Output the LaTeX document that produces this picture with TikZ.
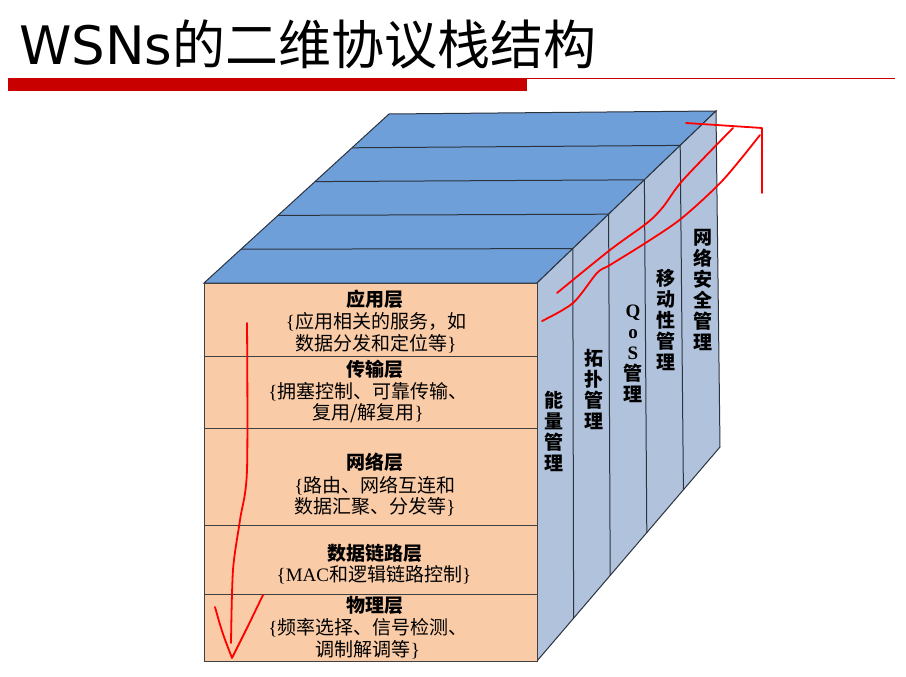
\documentclass[tikz,border=0pt]{standalone}
\usepackage{fontspec}
\setmainfont{Noto Sans CJK SC}
\newfontfamily\latinfont{DejaVu Sans}
\newfontfamily\romanfont{Liberation Serif}
\usetikzlibrary{calc}
\definecolor{topblue}{HTML}{6F9FD9}
\definecolor{sideblue}{HTML}{B1C3DC}
\definecolor{peach}{HTML}{F9CBA7}
\definecolor{barred}{HTML}{C80000}
\definecolor{edge}{HTML}{2B3340}
\newcommand{\rl}[1]{{\romanfont #1}}
\tikzset{
  layername/.style={font=\fontsize{19}{21.5}\selectfont\bfseries},
  layerbody/.style={font=\fontsize{19}{21.5}\selectfont, align=center},
  sidetext/.style={font=\fontsize{19}{21}\selectfont\bfseries, align=center},
  pen/.style={draw=red, line width=1.8pt, line cap=round, line join=round}
}
\begin{document}
\begin{tikzpicture}[x=1pt, y=-1pt, every node/.style={inner sep=0pt}]
  \useasboundingbox (0,0) rectangle (906,677);
  % title and bar
  \node[anchor=west, font=\fontsize{53}{60}\selectfont] (title) at (19,44) {{\latinfont WSNs}的二维协议栈结构};
  \fill[barred] (8,78) rectangle (527,91);
  \draw[barred, line width=0.8pt] (527,78.5) -- (895,78.5);
  % corners of the block
  \coordinate (FL) at (204,283);
  \coordinate (FR) at (537,283);
  \coordinate (FB) at (537,661);
  \coordinate (BL) at (389,114);
  \coordinate (BR) at (716,111);
  \coordinate (BB) at (720,447);
  % top face
  \draw[fill=topblue, draw=edge, line width=1pt] (FL) -- (BL) -- (BR) -- (FR) -- cycle;
  \foreach \t in {0.2,0.4,0.6,0.8}
    \draw[edge, line width=1pt] ($(FL)!\t!(BL)$) -- ($(FR)!\t!(BR)$);
  % side face
  \draw[fill=sideblue, draw=edge, line width=1pt] (FR) -- (BR) -- (BB) -- (FB) -- cycle;
  \foreach \t in {0.2,0.4,0.6,0.8}
    \draw[edge, line width=1pt] ($(FR)!\t!(BR)$) -- ($(FB)!\t!(BB)$);
  % front face
  \foreach \a/\b in {283/356,356/428,428/525,525/594,594/661}
    \draw[fill=peach, draw=black!75, line width=1pt] (204,\a) rectangle (537,\b);
  \node[layername] (app) at (375,299) {应用层};
  \node[layerbody] (appd) at (376,332.5) {\rl{\{}应用相关的服务，如\\数据分发和定位等\rl{\}}};
  \node[layername] (trans) at (375,369) {传输层};
  \node[layerbody] (transd) at (368,402.5) {\rl{\{}拥塞控制、可靠传输、\\复用/解复用\rl{\}}};
  \node[layername] (net) at (375,462) {网络层};
  \node[layerbody] (netd) at (375,496) {\rl{\{}路由、网络互连和\\数据汇聚、分发等\rl{\}}};
  \node[layername] (link) at (375,553) {数据链路层};
  \node[layerbody] (linkd) at (374,575) {\rl{\{MAC}和逻辑链路控制\rl{\}}};
  \node[layername] (phy) at (375,605) {物理层};
  \node[layerbody] (phyd) at (368,638.5) {\rl{\{}频率选择、信号检测、\\调制解调等\rl{\}}};
  % side labels
  \node[sidetext] (energy) at (554,431) {能\\量\\管\\理};
  \node[sidetext] (topo) at (594,389) {拓\\扑\\管\\理};
  \node[sidetext] (qos) at (633,354) {\rl{Q}\\\rl{o}\\\rl{S}\\管\\理};
  \node[sidetext] (mobile) at (666,320) {移\\动\\性\\管\\理};
  \node[sidetext] (secure) at (703,290) {网\\络\\安\\全\\管\\理};
  % red marks
  \draw[pen] plot[smooth] coordinates {(247,323) (247,470) (240,520) (233,570) (231,643)};
  \draw[pen] (215,607) .. controls (222,632) .. (232,658) -- (248,626) -- (263,595);
  \draw[pen] plot[smooth] coordinates {(542,321) (573,303) (597,273) (610,265) (647,242) (682,218) (723,180) (760,135)};
  \draw[pen] plot[smooth] coordinates {(557,293) (610,250) (647,223) (663,207) (683,180) (733,128)};
  \draw[pen] (686,123) -- (762,128) -- (762,193);
\end{tikzpicture}
\end{document}
